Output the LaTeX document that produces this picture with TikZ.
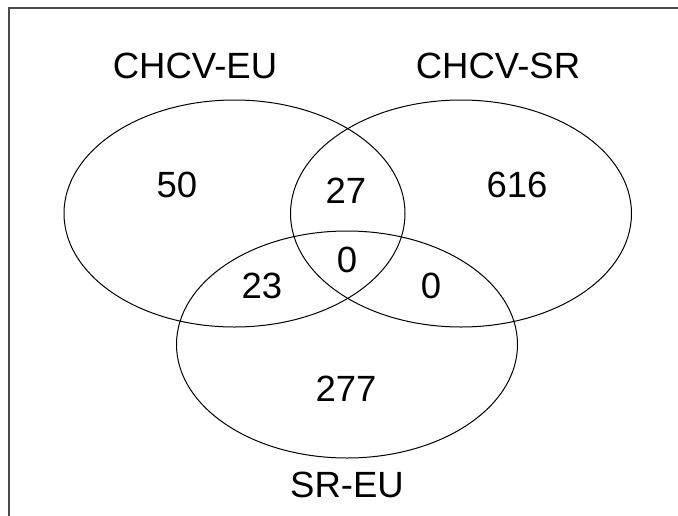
\documentclass[tikz,border=0pt]{standalone}
\usepackage{fontspec}
\setmainfont{Liberation Sans}
\begin{document}
\begin{tikzpicture}[x=1pt,y=-1pt,
  setlabel/.style={anchor=base,inner sep=0pt,font=\fontsize{36.5}{44}\selectfont},
  setcircle/.style={draw=black,line width=1pt},
  frame/.style={draw=black!70,line width=1.3pt}]
\useasboundingbox (0,0) rectangle (678,515);
\draw[frame] (9,8) rectangle (720,560);
\draw[setcircle] (234.5,213.5) ellipse [x radius=170.5, y radius=113.5];
\draw[setcircle] (461,213.5) ellipse [x radius=170.5, y radius=113.5];
\draw[setcircle] (347,344.5) ellipse [x radius=170.5, y radius=113.5];
\node[setlabel] (lEU) at (195,78) {CHCV-EU};
\node[setlabel] (lSR) at (498,78) {CHCV-SR};
\node[setlabel] (lSREU) at (347,497) {SR-EU};
\node[setlabel] (n50) at (177,197) {50};
\node[setlabel] (n616) at (517,197) {616};
\node[setlabel] (n27) at (346,203) {27};
\node[setlabel] (n0c) at (347,272) {0};
\node[setlabel] (n23) at (262,298) {23};
\node[setlabel] (n0r) at (431,298) {0};
\node[setlabel] (n277) at (346,401) {277};
\end{tikzpicture}
\end{document}
